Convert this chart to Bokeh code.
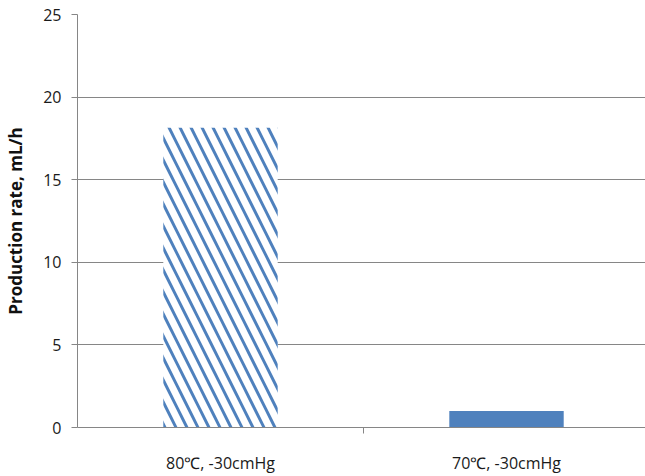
from bokeh.plotting import figure
from bokeh.models import Range1d, FixedTicker, ColumnDataSource
from bokeh.embed import file_html
from bokeh.resources import INLINE

categories = ["80\u2103, -30cmHg", "70\u2103, -30cmHg"]
values = [18.15, 1.0]
y_ticks = [0, 5, 10, 15, 20, 25]
hatched = [True, False]

xs = [i + 0.5 for i in range(len(categories))]

p = figure(width=645, height=476, output_backend="svg", toolbar_location=None,
           x_range=Range1d(0, 1.986), y_range=Range1d(0, 25),
           min_border_left=77, min_border_right=0, min_border_top=14, min_border_bottom=44)
p.outline_line_color = None

src_h = ColumnDataSource(dict(x=[x for x, h in zip(xs, hatched) if h],
                              top=[v for v, h in zip(values, hatched) if h]))
src_s = ColumnDataSource(dict(x=[x for x, h in zip(xs, hatched) if not h],
                              top=[v for v, h in zip(values, hatched) if not h]))

p.vbar(x="x", top="top", bottom=0, width=0.4, source=src_h,
       fill_color="white", line_color=None,
       hatch_pattern="\\", hatch_color="#4F81BD", hatch_scale=22, hatch_weight=3.0)
p.vbar(x="x", top="top", bottom=0, width=0.4, source=src_s,
       fill_color="#4F81BD", line_color=None)

p.xgrid.grid_line_color = None
p.ygrid.grid_line_color = "#868686"
p.ygrid.grid_line_width = 1
p.ygrid.ticker = FixedTicker(ticks=y_ticks)

p.yaxis.ticker = FixedTicker(ticks=y_ticks)
p.yaxis.axis_line_color = "#868686"
p.yaxis.major_tick_line_color = "#868686"
p.yaxis.major_tick_out = 6
p.yaxis.major_tick_in = 0
p.yaxis.minor_tick_line_color = None
p.yaxis.major_label_text_font = "Open Sans"
p.yaxis.major_label_text_font_size = "16px"
p.yaxis.major_label_text_color = "#1a1a1a"
p.yaxis.major_label_standoff = 10
p.yaxis.axis_label = "Production rate, mL/h"
p.yaxis.axis_label_text_font = "Open Sans"
p.yaxis.axis_label_text_font_style = "bold"
p.yaxis.axis_label_text_font_size = "17px"
p.yaxis.axis_label_text_color = "#111111"
p.yaxis.axis_label_standoff = 13

p.xaxis.ticker = FixedTicker(ticks=xs, minor_ticks=[1.0])
p.xaxis.major_label_overrides = {x: c for x, c in zip(xs, categories)}
p.xaxis.axis_line_color = "#868686"
p.xaxis.major_tick_line_color = None
p.xaxis.minor_tick_line_color = "#868686"
p.xaxis.minor_tick_out = 6
p.xaxis.minor_tick_in = 0
p.xaxis.major_label_text_font = "Open Sans"
p.xaxis.major_label_text_font_size = "16px"
p.xaxis.major_label_text_color = "#1a1a1a"
p.xaxis.major_label_standoff = 18

open("out.html", "w").write(file_html(p, INLINE))
